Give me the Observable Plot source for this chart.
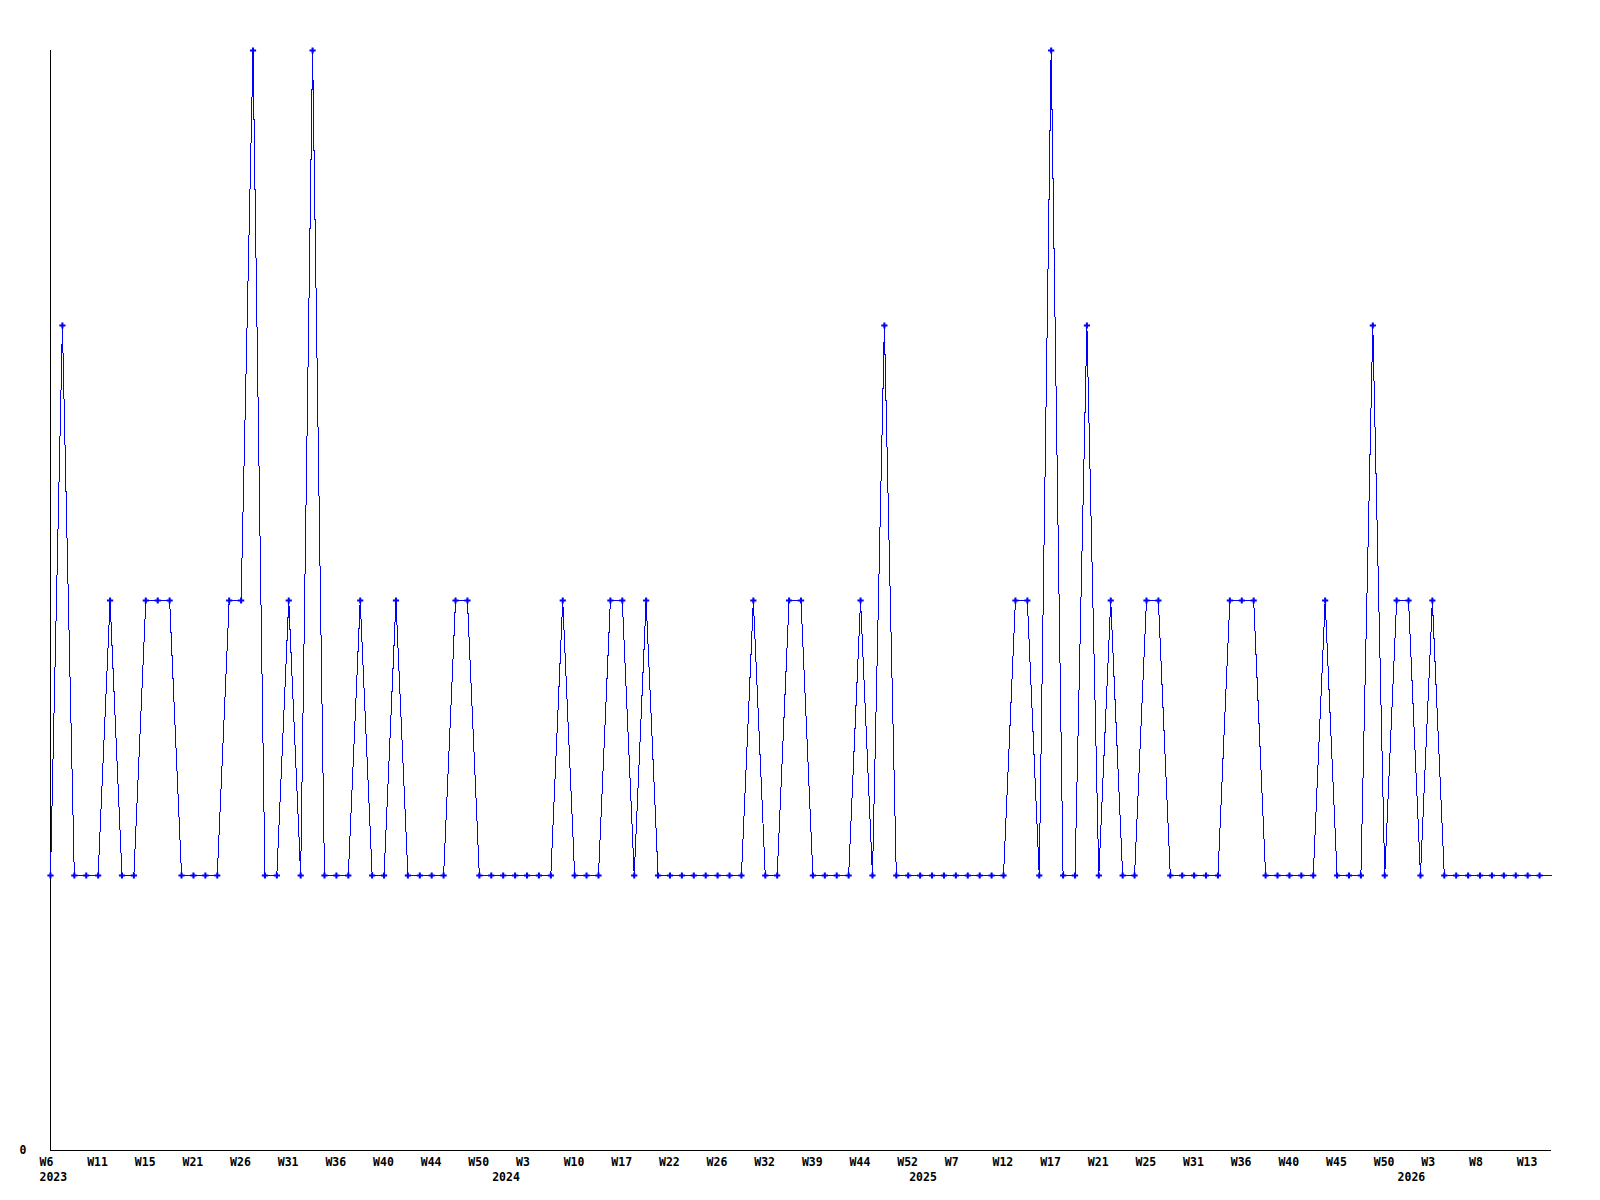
<!DOCTYPE html>
<html>
<head>
<meta charset="utf-8">
<script src="https://cdn.jsdelivr.net/npm/d3@7"></script>
<script src="https://cdn.jsdelivr.net/npm/@observablehq/plot@0.6"></script>
<style>
  html, body { margin: 0; padding: 0; background: #fff; }
  #chart svg { display: block; }
</style>
</head>
<body>
<div id="chart"></div>
<script>
// Weekly series (one point per listed week, in order)
const values = [
  1,3,1,1,1,2,1,1,2,2,
  2,1,1,1,1,2,2,4,1,1,
  2,1,4,1,1,1,2,1,1,2,
  1,1,1,1,2,2,1,1,1,1,
  1,1,1,2,1,1,1,2,2,1,
  2,1,1,1,1,1,1,1,1,2,
  1,1,2,2,1,1,1,1,2,1,
  3,1,1,1,1,1,1,1,1,1,
  1,2,2,1,4,1,1,3,1,2,
  1,1,2,2,1,1,1,1,1,2,
  2,2,1,1,1,1,1,2,1,1,
  1,3,1,2,2,1,2,1,1,1,
  1,1,1,1,1,1,1
];

// Week tick labels (every 4th listed week)
const weekLabels = [
  "W6","W11","W15","W21","W26","W31","W36","W40","W44","W50",
  "W3","W10","W17","W22","W26","W32","W39","W44","W52",
  "W7","W12","W17","W21","W25","W31","W36","W40","W45","W50",
  "W3","W8","W13"
];
const weekStep = 4;

// Year labels and the position (point index) of the first week of each year
const years = ["2023","2024","2025","2026"];
const yearStart = [0, 38, 73, 114];

const data = values.map((v, i) => ({i, v}));
const weekTicks = weekLabels.map((_, k) => k * weekStep);
const font = "'DejaVu Sans Mono', monospace";

const chart = Plot.plot({
  width: 1600,
  height: 1200,
  marginLeft: 50,
  marginRight: 49,
  marginTop: 50,
  marginBottom: 50,
  style: {fontFamily: font, fontSize: "11.5px", fontWeight: "bold", color: "#000", background: "#fff"},
  x: {type: "linear", domain: [0, values.length - 1]},
  y: {type: "linear", domain: [0, 4]},
  marks: [
    Plot.axisY({ticks: [0], tickSize: 0, tickPadding: 24, tickFormat: d => String(d),
                fontFamily: font, fontSize: 11.5, fontWeight: "bold", label: null}),
    Plot.axisX({ticks: weekTicks, tickSize: 0, tickPadding: 7, textAnchor: "start", dx: -11,
                tickFormat: (d) => weekLabels[d / weekStep], label: null,
                fontFamily: font, fontSize: 11.5, fontWeight: "bold"}),
    Plot.axisX({ticks: yearStart, tickSize: 0, tickPadding: 22, textAnchor: "start", dx: -11,
                tickFormat: (d) => years[yearStart.indexOf(d)], label: null,
                fontFamily: font, fontSize: 11.5, fontWeight: "bold"}),
    Plot.ruleX([0], {stroke: "#000", strokeWidth: 1, shapeRendering: "crispEdges"}),
    Plot.ruleY([0], {stroke: "#000", strokeWidth: 1, shapeRendering: "crispEdges"}),
    Plot.line(data, {x: "i", y: "v", stroke: "#0000ff", strokeWidth: 1, shapeRendering: "crispEdges"}),
    Plot.dot(data.slice(0, -1), {x: "i", y: "v", symbol: "cross", r: 2.6, fill: "#0000ff", stroke: "none"})
  ]
});
document.getElementById("chart").appendChild(chart);
</script>
</body>
</html>
